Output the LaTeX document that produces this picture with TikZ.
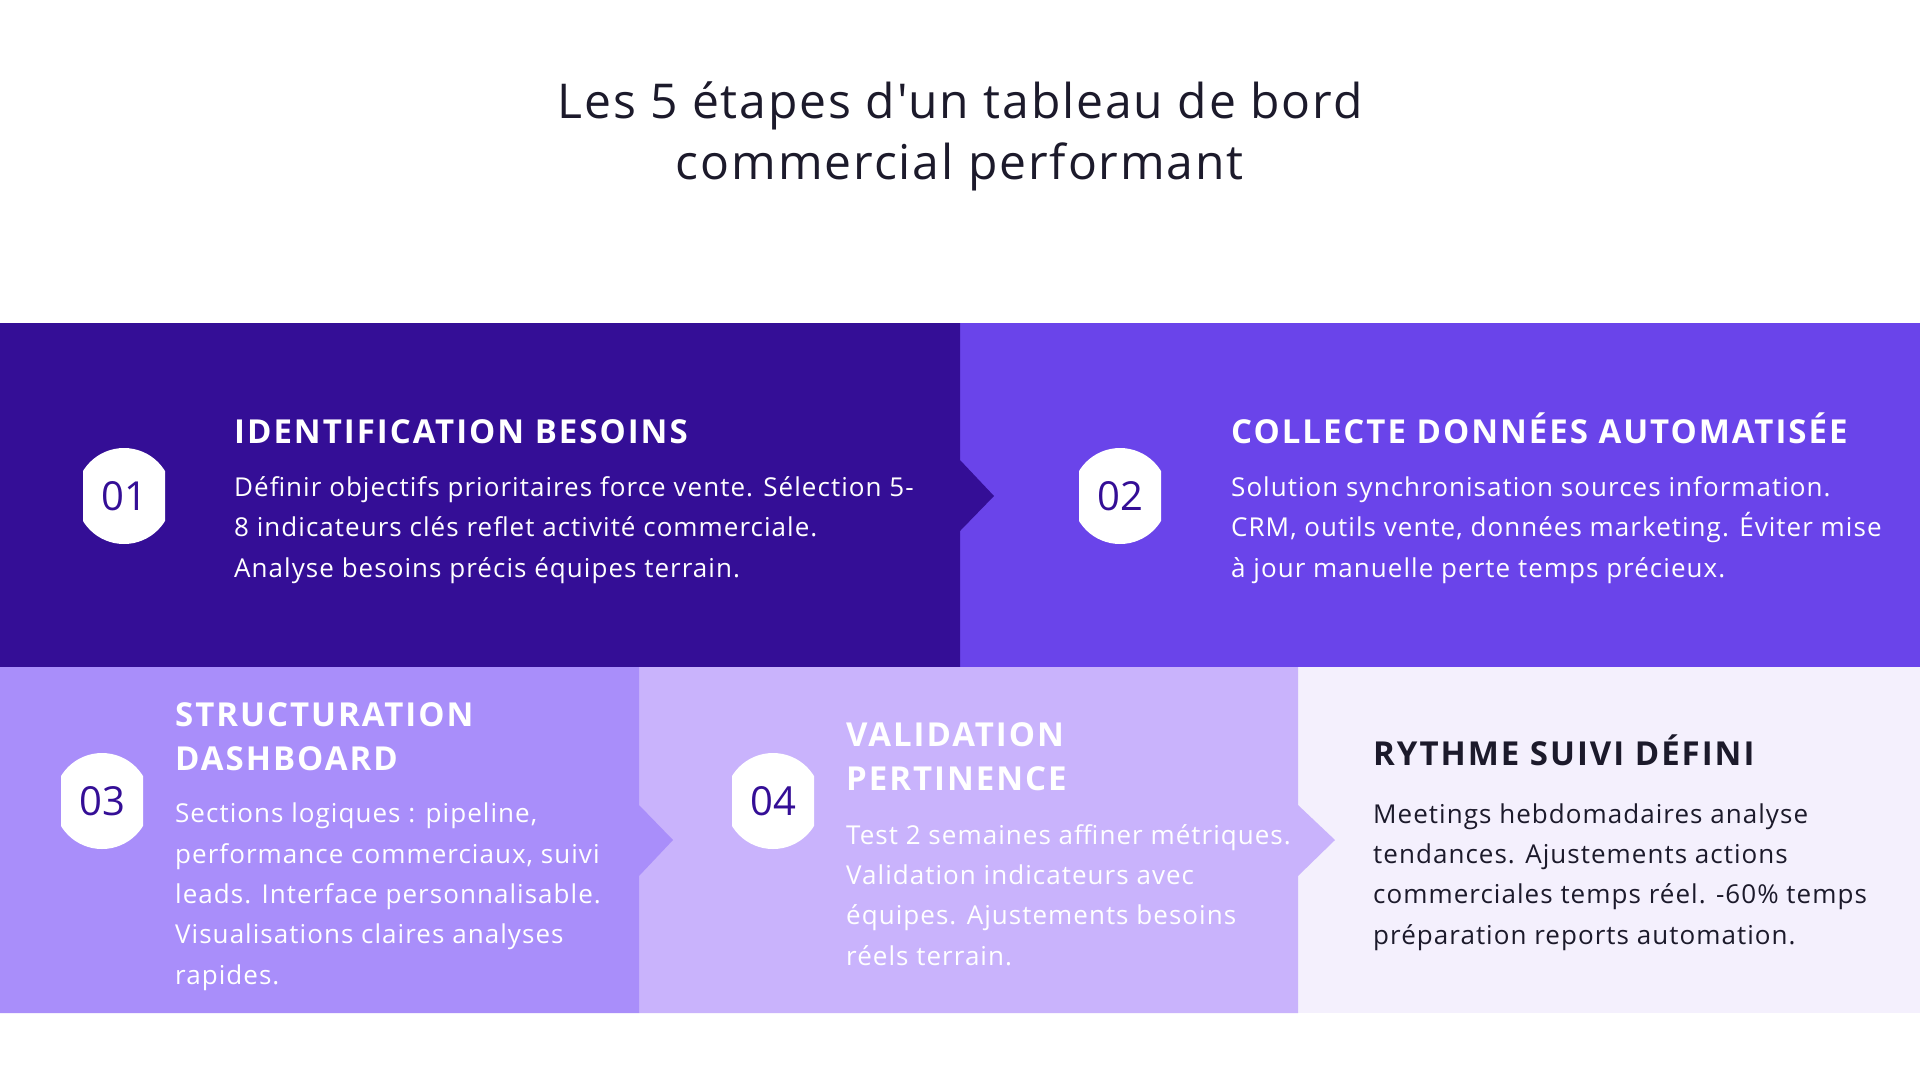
\documentclass[tikz,border=0pt]{standalone}
\usepackage{fontspec}
\setmainfont{Open Sans}[Ligatures=TeXOff]
\definecolor{c1}{HTML}{340E96}
\definecolor{c2}{HTML}{6A44EA}
\definecolor{c3}{HTML}{A98EFA}
\definecolor{c4}{HTML}{C9B3FC}
\definecolor{c5}{HTML}{F4F0FD}
\definecolor{dk}{HTML}{1C1A2B}
\begin{document}
\begin{tikzpicture}[x=1pt,y=-1pt,
  head/.style={anchor=base west,align=left,inner sep=0pt,font=\fontsize{33}{44}\selectfont\bfseries\addfontfeature{LetterSpace=6}},
  body/.style={anchor=base west,align=left,inner sep=0pt,font=\fontsize{26}{40.3}\selectfont\addfontfeature{LetterSpace=4}},
  num/.style={font=\fontsize{40}{40}\selectfont,text=c1}]
\useasboundingbox (0,0) rectangle (1920,1080);
\fill[white] (0,0) rectangle (1920,1080);
\node[font=\fontsize{48}{61}\selectfont\addfontfeature{LetterSpace=4},text=dk,align=center,anchor=base] (title) at (960,179) {Les 5 étapes d'un tableau de bord\\commercial performant};
% boxes
\fill[c2] (960,323) rectangle (1920,667);
\fill[c1] (0,323) -- (960,323) -- (960,460) -- (994,496) -- (960,531) -- (960,667) -- (0,667) -- cycle;
\fill[c5] (1298,667) rectangle (1920,1013);
\fill[c4] (639,667) -- (1298,667) -- (1298,805) -- (1335,840) -- (1298,876) -- (1298,1013) -- (639,1013) -- cycle;
\fill[c3] (0,667) -- (639,667) -- (639,805) -- (673,840) -- (639,876) -- (639,1013) -- (0,1013) -- cycle;
% badges
\foreach \n/\cx/\cy in {b1/124/496,b2/1120/496,b3/102/801,b4/773/801}{
  \begin{scope}
  \clip (\cx-41,\cy-60) rectangle (\cx+41,\cy+60);
  \fill[white] (\cx,\cy) circle (48);
  \end{scope}
  \coordinate (\n) at (\cx,\cy);
}
\node[num] (n1) at (b1) {01};
\node[num] (n2) at (b2) {02};
\node[num] (n3) at (b3) {03};
\node[num] (n4) at (b4) {04};
% texts
\node[head,text=white] (h1) at (234,443) {IDENTIFICATION BESOINS};
\node[body,text=white] (t1) at (234,577) {Définir objectifs prioritaires force vente. Sélection 5-\\8 indicateurs clés reflet activité commerciale.\\Analyse besoins précis équipes terrain.};
\node[head,text=white] (h2) at (1231,443) {COLLECTE DONNÉES AUTOMATISÉE};
\node[body,text=white] (t2) at (1231,577) {Solution synchronisation sources information.\\CRM, outils vente, données marketing. Éviter mise\\à jour manuelle perte temps précieux.};
\node[head,text=white] (h3) at (175,770) {STRUCTURATION\\DASHBOARD};
\node[body,text=white] (t3) at (175,984) {Sections logiques : pipeline,\\performance commerciaux, suivi\\leads. Interface personnalisable.\\Visualisations claires analyses\\rapides.};
\node[head,text=white] (h4) at (846,790) {VALIDATION\\PERTINENCE};
\node[body,text=white] (t4) at (846,965) {Test 2 semaines affiner métriques.\\Validation indicateurs avec\\équipes. Ajustements besoins\\réels terrain.};
\node[head,text=dk] (h5) at (1373,765) {RYTHME SUIVI DÉFINI};
\node[body,text=dk] (t5) at (1373,944) {Meetings hebdomadaires analyse\\tendances. Ajustements actions\\commerciales temps réel. -60\% temps\\préparation reports automation.};
\end{tikzpicture}
\end{document}
